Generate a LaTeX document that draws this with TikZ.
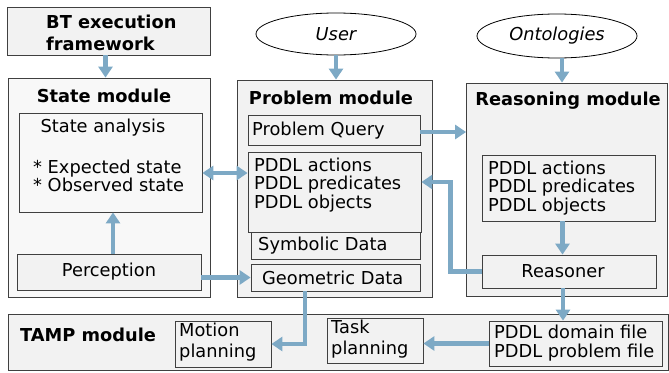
\documentclass[tikz,border=0pt]{standalone}
\usepackage{fontspec}
\setmainfont{DejaVu Sans}
\usetikzlibrary{arrows.meta,calc,shapes.geometric}
\definecolor{arrblue}{HTML}{7DA9C5}
\definecolor{boxgray}{HTML}{F2F2F2}
\definecolor{lightgray}{HTML}{F8F8F8}
\newcommand\fs{\fontsize{17.8}{18.5}\selectfont}
\begin{document}
\begin{tikzpicture}[x=1pt,y=-1pt,
  box/.style={draw=black!75, fill=boxgray, line width=0.8pt, inner sep=0pt, rectangle},
  lbl/.style={font=\fs, inner sep=0pt, align=left},
  ttl/.style={font=\fs\bfseries, inner sep=0pt},
  arr/.style={line width=4.5pt, draw=arrblue, -{Triangle[width=14pt,length=11pt]}},
  darr/.style={line width=4.5pt, draw=arrblue, {Triangle[width=14pt,length=11pt]}-{Triangle[width=14pt,length=11pt]}},
  ell/.style={draw=black, fill=white, line width=0.8pt, ellipse, inner sep=0pt, font=\fs\itshape}]
\useasboundingbox (0,0) rectangle (669,372);
% top
\node[box, minimum width=203pt, minimum height=48pt] (bt) at (108.5,31) {};
\node[font=\fs\bfseries, align=left, inner sep=0pt, anchor=west] (btt) at (46,33) {BT execution\\[4pt]framework};
\node[ell, minimum width=160pt, minimum height=42pt] (user) at (336,34) {User};
\node[ell, minimum width=160pt, minimum height=44pt] (onto) at (557,36) {Ontologies};
% state module
\node[box, fill=lightgray, minimum width=202pt, minimum height=219pt] (state) at (109,187.5) {};
\node[ttl] (statet) at (104,96) {State module};
\node[box, fill=lightgray, minimum width=183pt, minimum height=99pt] (sa) at (110.5,162.5) {};
\node[lbl] (sat) at (103,128) {State analysis};
\node[lbl, anchor=west] (sat2) at (33,176) {* Expected state\\* Observed state};
\node[box, minimum width=184pt, minimum height=36pt, font=\fs] (perc) at (109,272) {Perception};
% problem module
\node[box, minimum width=195pt, minimum height=217pt] (prob) at (334.5,188.5) {};
\node[ttl] (probt) at (331,98) {Problem module};
\node[box, minimum width=172pt, minimum height=30pt] (pq) at (334,130) {};
\node[lbl, anchor=west] (pqt) at (252,131) {Problem Query};
\node[box, minimum width=173pt, minimum height=80pt] (ppddl) at (334.5,192) {};
\node[lbl, anchor=west] (ppddlt) at (254,185) {PDDL actions\\PDDL predicates\\PDDL objects};
\node[box, minimum width=169pt, minimum height=27pt] (sym) at (335.5,245.5) {};
\node[lbl, anchor=west] (symt) at (258,246) {Symbolic Data};
\node[box, minimum width=169pt, minimum height=27pt] (geo) at (335.5,277.5) {};
\node[lbl, anchor=west] (geot) at (262,278) {Geometric Data};
% reasoning module
\node[box, minimum width=201pt, minimum height=213pt] (reas) at (567,189.5) {};
\node[ttl] (reast) at (568,101) {Reasoning module};
\node[box, minimum width=173pt, minimum height=66pt] (rpddl) at (568.5,188) {};
\node[lbl, anchor=west] (rpddlt) at (488,188) {PDDL actions\\PDDL predicates\\PDDL objects};
\node[box, minimum width=174pt, minimum height=33pt, font=\fs] (reasoner) at (569,271.5) {\hspace*{-12pt}Reasoner};
% TAMP module
\node[box, minimum width=660pt, minimum height=56pt] (tamp) at (338,342) {};
\node[ttl, anchor=west] (tampt) at (20,335) {TAMP module};
\node[box, minimum width=96pt, minimum height=46pt] (motion) at (223,344) {};
\node[lbl, anchor=west] (motiont) at (179,342) {Motion\\[2pt]planning};
\node[box, minimum width=96pt, minimum height=45pt] (task) at (375,340.5) {};
\node[lbl, anchor=west] (taskt) at (331,339) {Task\\[2pt]planning};
\node[box, minimum width=173pt, minimum height=45pt] (dom) at (575.5,343.5) {};
\node[lbl, anchor=west] (domt) at (494,343) {PDDL domain file\\PDDL problem file};
% arrows
\draw[arr] ([xshift=-3pt]bt.south) -- ([xshift=-3pt]bt.south |- state.north);
\draw[arr] (user.south) -- (user.south |- prob.north);
\draw[arr] ([xshift=5pt]onto.south) -- ([xshift=5pt]onto.south |- reas.north);
\draw[arr] ([yshift=-2pt]pq.east) -- ([yshift=-2pt]pq.east -| reas.west);
\draw[darr] ([yshift=-10.5pt]sa.east) -- ([yshift=-10.5pt]sa.east -| ppddl.west);
\draw[arr] ([xshift=4pt]perc.north) -- ([xshift=4pt]perc.north |- sa.south);
\draw[arr] (perc.east |- geo.west) -- (geo.west);
\draw[arr] (reasoner.west) -| ($(ppddl.east)+(29,-10)$) -- ($(ppddl.east)+(0,-10)$);
\draw[arr] ([xshift=-6pt]rpddl.south) -- ([xshift=-6pt]rpddl.south |- reasoner.north);
\draw[arr] ([xshift=-6pt]reasoner.south) -- ([xshift=-6pt]reasoner.south |- dom.north);
\draw[arr] ($(geo.south)+(-30.5,0)$) |- (motion.east);
\draw[arr] (dom.west) -- (dom.west -| task.east);
\end{tikzpicture}
\end{document}
